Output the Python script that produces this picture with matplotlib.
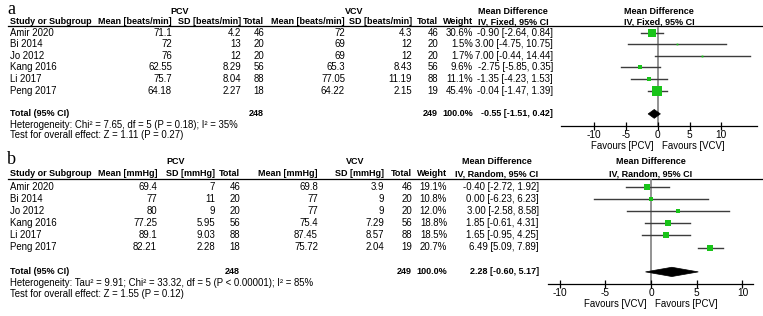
import matplotlib
matplotlib.use('Agg')
import matplotlib.pyplot as plt
from matplotlib.patches import Polygon

plt.rcParams['font.family'] = ['Liberation Sans', 'DejaVu Sans']

W, H = 763, 316
FS = 6.9      # body text
FSB = 6.5     # bold header text
GREEN = '#19c419'

studies = ['Amir 2020', 'Bi 2014', 'Jo 2012', 'Kang 2016', 'Li 2017', 'Peng 2017']

# panel a: heart rate
a_pcv_mean = [71.1, 72, 76, 62.55, 75.7, 64.18]
a_pcv_sd = [4.2, 13, 12, 8.29, 8.04, 2.27]
a_pcv_n = [46, 20, 20, 56, 88, 18]
a_vcv_mean = [72, 69, 69, 65.3, 77.05, 64.22]
a_vcv_sd = [4.3, 12, 12, 8.43, 11.19, 2.15]
a_vcv_n = [46, 20, 20, 56, 88, 19]
a_weight = [30.6, 1.5, 1.7, 9.6, 11.1, 45.4]
a_md = [-0.90, 3.00, 7.00, -2.75, -1.35, -0.04]
a_lo = [-2.64, -4.75, -0.44, -5.85, -4.23, -1.47]
a_hi = [0.84, 10.75, 14.44, 0.35, 1.53, 1.39]
a_total = [-0.55, -1.51, 0.42]
a_het = 'Heterogeneity: Chi\u00b2 = 7.65, df = 5 (P = 0.18); I\u00b2 = 35%'
a_test = 'Test for overall effect: Z = 1.11 (P = 0.27)'

# panel b: mean arterial pressure
b_pcv_mean = [69.4, 77, 80, 77.25, 89.1, 82.21]
b_pcv_sd = [7, 11, 9, 5.95, 9.03, 2.28]
b_pcv_n = [46, 20, 20, 56, 88, 18]
b_vcv_mean = [69.8, 77, 77, 75.4, 87.45, 75.72]
b_vcv_sd = [3.9, 9, 9, 7.29, 8.57, 2.04]
b_vcv_n = [46, 20, 20, 56, 88, 19]
b_weight = [19.1, 10.8, 12.0, 18.8, 18.5, 20.7]
b_md = [-0.40, 0.00, 3.00, 1.85, 1.65, 6.49]
b_lo = [-2.72, -6.23, -2.58, -0.61, -0.95, 5.09]
b_hi = [1.92, 6.23, 8.58, 4.31, 4.25, 7.89]
b_total = [2.28, -0.60, 5.17]
b_het = 'Heterogeneity: Tau\u00b2 = 9.91; Chi\u00b2 = 33.32, df = 5 (P < 0.00001); I\u00b2 = 85%'
b_test = 'Test for overall effect: Z = 1.55 (P = 0.12)'

ticks = [-10, -5, 0, 5, 10]

fig = plt.figure(figsize=(W / 100, H / 100), dpi=100)


def panel(letter, unit, method, fav_left, fav_right,
          pcv_mean, pcv_sd, pcv_n, vcv_mean, vcv_sd, vcv_n,
          weight, md, lo, hi, total, het, test, lay):
    row0, pitch, top, bot = lay['row0'], lay['pitch'], lay['top'], lay['bot']
    y_top = (top - row0) / pitch
    y_bot = (bot - row0) / pitch
    r = lambda px: (px - row0) / pitch   # pixel -> row units

    # table axes spanning full width
    ax = fig.add_axes([0, 1 - bot / H, 1, (bot - top) / H])
    ax.set_xlim(0, W)
    ax.set_ylim(y_bot, y_top)
    ax.axis('off')

    c = lay['cols']
    ax.text(7, r(lay['lab']), letter, family='Liberation Serif', fontsize=13,
            ha='left', va='center')
    h1, h2 = r(lay['h1']), r(lay['h2'])
    hb = dict(fontsize=FSB, weight='bold', va='center')
    ax.text(lay['pcv_c'], h1, 'PCV', ha='center', **hb)
    ax.text(lay['vcv_c'], h1, 'VCV', ha='center', **hb)
    ax.text(lay['md_c'], h1, 'Mean Difference', ha='center', **hb)
    ax.text(lay['md_c'], h2, method, ha='center', **hb)
    plot_c = (lay['pl'] + lay['pr']) / 2
    ax.text(plot_c, h1, 'Mean Difference', ha='center', **hb)
    ax.text(plot_c, h2, method, ha='center', **hb)
    ax.text(10, h2, 'Study or Subgroup', ha='left', **hb)
    heads = ['Mean [%s]' % unit, 'SD [%s]' % unit, 'Total',
             'Mean [%s]' % unit, 'SD [%s]' % unit, 'Total', 'Weight']
    for x, s in zip(c, heads):
        ax.text(x, h2, s, ha='right', **hb)
    ax.plot([8, W], [y_top, y_top], color='black', lw=0.9, clip_on=False)

    for i, name in enumerate(studies):
        vals = ['%g' % pcv_mean[i], '%g' % pcv_sd[i], '%d' % pcv_n[i],
                '%g' % vcv_mean[i], '%g' % vcv_sd[i], '%d' % vcv_n[i],
                '%.1f%%' % weight[i]]
        ax.text(10, i, name, fontsize=FS, ha='left', va='center')
        for x, s in zip(c, vals):
            ax.text(x, i, s, fontsize=FS, ha='right', va='center')
        ax.text(lay['md_r'], i, '%.2f [%.2f, %.2f]' % (md[i], lo[i], hi[i]),
                fontsize=FS, ha='right', va='center')

    tb = dict(fontsize=FSB, weight='bold', va='center')
    ax.text(10, 7, 'Total (95% CI)', ha='left', **tb)
    ax.text(c[2], 7, '%d' % sum(pcv_n), ha='right', **tb)
    ax.text(c[5], 7, '%d' % sum(vcv_n), ha='right', **tb)
    ax.text(c[6], 7, '100.0%', ha='right', **tb)
    ax.text(lay['md_r'], 7, '%.2f [%.2f, %.2f]' % tuple(total), ha='right', **tb)
    ax.text(10, r(lay['het']), het, fontsize=FS, ha='left', va='center')
    ax.text(10, r(lay['test']), test, fontsize=FS, ha='left', va='center')

    # forest plot axes
    pl, pr = lay['pl'], lay['pr']
    axp = fig.add_axes([pl / W, 1 - bot / H, (pr - pl) / W, (bot - top) / H])
    axp.set_xlim(lay['xlim'])
    axp.set_ylim(y_bot, y_top)
    axp.patch.set_visible(False)
    for s in ['top', 'left', 'right']:
        axp.spines[s].set_visible(False)
    axp.spines['bottom'].set_linewidth(0.9)
    axp.set_yticks([])
    axp.set_xticks(ticks)
    axp.set_xticklabels([str(t) for t in ticks])
    axp.tick_params(axis='x', direction='inout', length=6, width=0.9,
                    labelsize=FS + 0.4, pad=0.5)
    axp.axvline(0, color='#8a8a8a', lw=1.3, zorder=1)

    wmax = max(weight)
    for i in range(len(studies)):
        axp.plot([lo[i], hi[i]], [i, i], color='#3c3c3c', lw=1.0, zorder=2)
        side = lay['sq'] * (weight[i] / wmax) ** 0.5
        axp.plot(md[i], i, marker='s', ms=max(side, 1.5) * 0.72, color=GREEN,
                 mec=GREEN, mew=0, zorder=3)
    est, tlo, thi = total
    dh = 0.38
    axp.add_patch(Polygon([(tlo, 7), (est, 7 - dh), (thi, 7), (est, 7 + dh)],
                          closed=True, fc='black', ec='black', lw=0.5, zorder=3))
    fy = (bot - lay['fav']) / (bot - top)
    axp.annotate(fav_left, xy=(0, fy), xycoords=axp.get_xaxis_transform(),
                 xytext=(-3, 0), textcoords='offset points', ha='right',
                 va='center', fontsize=FS)
    axp.annotate(fav_right, xy=(0, fy), xycoords=axp.get_xaxis_transform(),
                 xytext=(3, 0), textcoords='offset points', ha='left',
                 va='center', fontsize=FS)


lay_a = dict(row0=32.7, pitch=11.6, top=26.5, bot=125.5, lab=10, h1=11, h2=21.5,
             cols=[172, 241, 264, 345, 412, 438, 473], md_r=553, md_c=513,
             pcv_c=180, vcv_c=354, pl=561, pr=757, xlim=(-15.2, 15.6),
             sq=9.5, fav=146, het=124.5, test=135.5)
lay_b = dict(row0=186.5, pitch=12.2, top=179, bot=283.5, lab=160, h1=162, h2=174,
             cols=[157, 215, 240, 318, 384, 412, 447], md_r=539, md_c=497,
             pcv_c=176, vcv_c=355, pl=548, pr=753, xlim=(-11.26, 11.15),
             sq=5.5, fav=304, het=283, test=294)

panel('a', 'beats/min', 'IV, Fixed, 95% CI', 'Favours [PCV]', 'Favours [VCV]',
      a_pcv_mean, a_pcv_sd, a_pcv_n, a_vcv_mean, a_vcv_sd, a_vcv_n,
      a_weight, a_md, a_lo, a_hi, a_total, a_het, a_test, lay_a)
panel('b', 'mmHg', 'IV, Random, 95% CI', 'Favours [VCV]', 'Favours [PCV]',
      b_pcv_mean, b_pcv_sd, b_pcv_n, b_vcv_mean, b_vcv_sd, b_vcv_n,
      b_weight, b_md, b_lo, b_hi, b_total, b_het, b_test, lay_b)

fig.savefig('out.png', dpi=100)
